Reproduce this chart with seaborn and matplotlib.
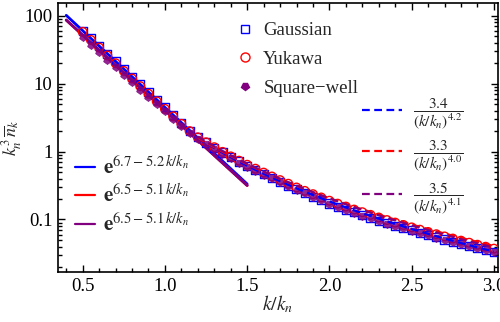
import numpy as np
import pandas as pd
import matplotlib
matplotlib.use("Agg")
import matplotlib.pyplot as plt
from matplotlib.markers import MarkerStyle
from matplotlib.transforms import Affine2D
from matplotlib.lines import Line2D
from matplotlib.ticker import LogLocator, MultipleLocator, NullFormatter
import seaborn as sns

# momentum grid k/k_n
k_ratio = [0.50, 0.55, 0.60, 0.65, 0.70, 0.75, 0.80, 0.85, 0.90, 0.95,
           1.00, 1.05, 1.10, 1.15, 1.20, 1.25, 1.30, 1.35, 1.40, 1.45,
           1.50, 1.55, 1.60, 1.65, 1.70, 1.75, 1.80, 1.85, 1.90, 1.95,
           2.00, 2.05, 2.10, 2.15, 2.20, 2.25, 2.30, 2.35, 2.40, 2.45,
           2.50, 2.55, 2.60, 2.65, 2.70, 2.75, 2.80, 2.85, 2.90, 2.95, 3.00]

# k_n^3 n_k for each interaction
gaussian = [60.3, 46.5, 35.9, 27.7, 21.3, 16.4, 12.7, 9.78, 7.54, 5.81,
            4.48, 3.46, 2.66, 2.02, 1.62, 1.36, 1.14, 0.97, 0.83, 0.714,
            0.619, 0.536, 0.466, 0.408, 0.357, 0.314, 0.277, 0.245, 0.216, 0.193,
            0.172, 0.155, 0.140, 0.127, 0.115, 0.105, 0.0960, 0.0880, 0.0810, 0.0745,
            0.0690, 0.0638, 0.0590, 0.0548, 0.0508, 0.0472, 0.0440, 0.0410, 0.0382, 0.0357, 0.0334]
yukawa = [58.0, 44.0, 34.0, 26.0, 20.0, 15.4, 11.9, 9.2, 7.1, 5.5,
          4.25, 3.3, 2.56, 2.0, 1.62, 1.37, 1.16, 0.99, 0.85, 0.735,
          0.640, 0.560, 0.490, 0.430, 0.380, 0.336, 0.296, 0.264, 0.236, 0.211,
          0.189, 0.171, 0.155, 0.140, 0.128, 0.117, 0.107, 0.098, 0.090, 0.083,
          0.0765, 0.0707, 0.0655, 0.0607, 0.0563, 0.0524, 0.0488, 0.0455, 0.0425, 0.0397, 0.0372]
square_well = [48.0, 37.5, 29.0, 22.5, 17.5, 13.6, 10.6, 8.2, 6.4, 5.0,
               3.9, 3.05, 2.4, 1.88, 1.52, 1.28, 1.09, 0.93, 0.80, 0.69,
               0.60, 0.523, 0.458, 0.402, 0.354, 0.312, 0.275, 0.243, 0.216, 0.192,
               0.171, 0.154, 0.139, 0.126, 0.114, 0.104, 0.0950, 0.0870, 0.0800, 0.0737,
               0.0680, 0.0628, 0.0582, 0.0540, 0.0502, 0.0467, 0.0435, 0.0406, 0.0379, 0.0354, 0.0332]

# fit parameters: exp(a - b k/k_n) and A / (k/k_n)^p
exp_a = [6.7, 6.5, 6.5]
exp_b = [5.2, 5.1, 5.1]
pow_A = [3.4, 3.3, 3.5]
pow_p = [4.2, 4.0, 4.1]
exp_range = (0.4, 1.5)
pow_range = (1.2, 3.0)

names = ["Gaussian", "Yukawa", "Square\u2212well"]
colors = ["#0000ff", "#ff0000", "#800080"]

sns.set_theme(style="ticks")
plt.rcParams["font.family"] = ["Liberation Serif", "DejaVu Serif"]
plt.rcParams["mathtext.fontset"] = "stix"

fig = plt.figure(figsize=(5.0, 3.22), dpi=100)
ax = fig.add_axes([0.116, 0.155, 0.880, 0.835])

# fit curves
xe = np.linspace(*exp_range, 100)
xp = np.linspace(*pow_range, 100)
fits = []
for i in range(3):
    fits.append(pd.DataFrame({"x": xe, "y": np.exp(exp_a[i] - exp_b[i] * xe),
                              "curve": f"exp{i}"}))
for i in range(3):
    fits.append(pd.DataFrame({"x": xp, "y": pow_A[i] / xp ** pow_p[i],
                              "curve": f"pow{i}"}))
fit_df = pd.concat(fits, ignore_index=True)

for i in range(3):
    sns.lineplot(data=fit_df[fit_df.curve == f"exp{i}"], x="x", y="y",
                 color=colors[i], lw=2.0, ax=ax, legend=False, zorder=2)
for i in range(3):
    sns.lineplot(data=fit_df[fit_df.curve == f"pow{i}"], x="x", y="y",
                 color=colors[i], lw=1.6, ax=ax, legend=False, zorder=4,
                 dashes=False, linestyle=(0, (3.5, 2)))

# data points
pent_down = MarkerStyle("p", transform=Affine2D().rotate_deg(180))
sns.scatterplot(x=k_ratio, y=gaussian, marker="s", s=34, facecolor="none",
                edgecolor=colors[0], linewidth=1.0, ax=ax, zorder=3)
sns.scatterplot(x=k_ratio, y=yukawa, marker="o", s=38, facecolor="none",
                edgecolor=colors[1], linewidth=1.0, ax=ax, zorder=3)
sns.scatterplot(x=k_ratio, y=square_well, marker=pent_down, s=34, color=colors[2],
                edgecolor=colors[2], linewidth=0.5, alpha=0.85, ax=ax, zorder=3)

ax.set_yscale("log")
ax.set_xlim(0.35, 3.025)
ax.set_ylim(0.0168, 153)

# ticks: inward, all four sides
ax.xaxis.set_major_locator(MultipleLocator(0.5))
ax.xaxis.set_minor_locator(MultipleLocator(0.1))
ax.yaxis.set_minor_locator(LogLocator(base=10, subs=np.arange(2, 10), numticks=20))
ax.yaxis.set_minor_formatter(NullFormatter())
ax.set_yticks([0.1, 1, 10, 100])
ax.set_yticklabels(["0.1", "1", "10", "100"])
ax.set_xticks([0.5, 1.0, 1.5, 2.0, 2.5, 3.0])
ax.set_xticklabels(["0.5", "1.0", "1.5", "2.0", "2.5", "3.0"])
ax.tick_params(which="both", direction="in", top=True, right=True, colors="black",
               labelsize=13.5, width=1.0)
ax.tick_params(which="major", length=5, pad=4)
ax.tick_params(which="minor", length=3)
for sp in ax.spines.values():
    sp.set_linewidth(1.2)
    sp.set_color("black")

ax.set_xlabel(r"$k/k_n$", fontsize=14, labelpad=-1)
ax.set_ylabel(r"$k_n^3\,\overline{n}_k$", fontsize=13)
ax.yaxis.set_label_coords(-0.078, 0.5)

# legend for data markers
marker_handles = [
    Line2D([], [], marker="s", ls="none", mfc="none", mec=colors[0], ms=5.5, mew=1.0),
    Line2D([], [], marker="o", ls="none", mfc="none", mec=colors[1], ms=6.5, mew=1.0),
    Line2D([], [], marker=pent_down, ls="none", mfc=colors[2], mec=colors[2], ms=5.5),
]
leg1 = ax.legend(marker_handles, names, loc="upper left", bbox_to_anchor=(0.36, 1.0),
                 frameon=False, fontsize=13.5, handlelength=1.0, handletextpad=0.5,
                 labelspacing=0.62, borderaxespad=0.6)
ax.add_artist(leg1)

# legend for exponential fits
exp_handles = [Line2D([], [], color=c, lw=1.6) for c in colors]
exp_labels = [rf"$\mathbf{{e}}^{{{a}-{b}\,k/k_n}}$" for a, b in zip(exp_a, exp_b)]
leg2 = ax.legend(exp_handles, exp_labels, loc="upper left", bbox_to_anchor=(-0.005, 0.50),
                 frameon=False, fontsize=15, handlelength=1.0, handletextpad=0.35,
                 labelspacing=0.3)
ax.add_artist(leg2)

# legend for power-law fits
pow_handles = [Line2D([], [], color=c, lw=1.6, ls=(0, (3.5, 2))) for c in colors]
pow_labels = [rf"$\dfrac{{{A}}}{{(k/k_n)^{{{p}}}}}$" for A, p in zip(pow_A, pow_p)]
leg3 = ax.legend(pow_handles, pow_labels, loc="upper left", bbox_to_anchor=(0.66, 0.70),
                 frameon=False, fontsize=11, handlelength=2.6, handletextpad=0.7,
                 labelspacing=0.5)

fig.savefig("out.png", dpi=100)
